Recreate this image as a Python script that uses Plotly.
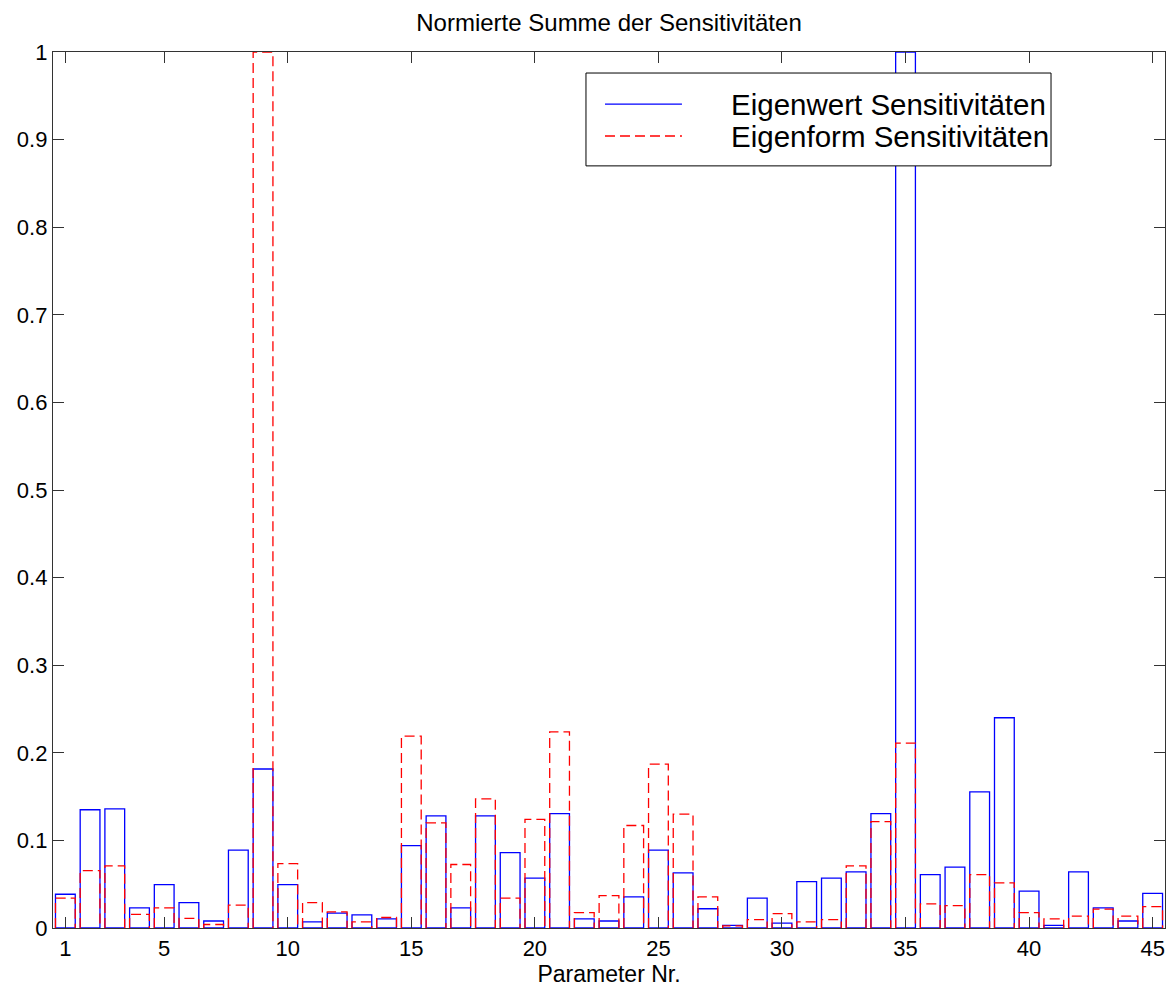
import plotly.graph_objects as go

# ---- data ----
params = list(range(1, 46))
eigenwert = [0.0385, 0.135, 0.136, 0.023, 0.0495, 0.029, 0.008, 0.089, 0.1815, 0.0495,
             0.007, 0.017, 0.015, 0.0105, 0.094, 0.128, 0.023, 0.128, 0.086, 0.057,
             0.1305, 0.0105, 0.008, 0.0355, 0.089, 0.063, 0.022, 0.003, 0.034, 0.0055,
             0.053, 0.057, 0.064, 0.1305, 1.0, 0.061, 0.0695, 0.1555, 0.24, 0.042,
             0.003, 0.064, 0.023, 0.008, 0.0395]
eigenform = [0.034, 0.0655, 0.071, 0.0155, 0.023, 0.011, 0.004, 0.026, 1.0, 0.0735,
             0.029, 0.0185, 0.007, 0.012, 0.219, 0.12, 0.0725, 0.1475, 0.034, 0.124,
             0.224, 0.0175, 0.037, 0.117, 0.187, 0.13, 0.0355, 0.0025, 0.0095, 0.0165,
             0.007, 0.0095, 0.071, 0.1215, 0.211, 0.0275, 0.0255, 0.061, 0.0515, 0.0175,
             0.0105, 0.0135, 0.0215, 0.0135, 0.0245]
x_ticks = [1, 5, 10, 15, 20, 25, 30, 35, 40, 45]
y_ticks = [0, 0.1, 0.2, 0.3, 0.4, 0.5, 0.6, 0.7, 0.8, 0.9, 1]
y_ticklabels = ["0", "0.1", "0.2", "0.3", "0.4", "0.5", "0.6", "0.7", "0.8", "0.9", "1"]
name_w = "Eigenwert Sensitivitäten"
name_f = "Eigenform Sensitivitäten"

BW = 0.8
FONT = "Liberation Sans, Arial, Helvetica, sans-serif"
BLUE = "#0000ff"
RED = "#ff0000"

fig = go.Figure()

# Eigenwert: solid blue outlined bars
fig.add_trace(go.Bar(
    x=params, y=eigenwert, width=BW, name=name_w,
    marker=dict(color="rgba(0,0,0,0)", line=dict(color=BLUE, width=1.3)),
    showlegend=False,
))

# Eigenform: dashed red outlined bars (drawn as paths from the data)
rx, ry = [], []
for p, v in zip(params, eigenform):
    rx += [p - BW / 2, p - BW / 2, p + BW / 2, p + BW / 2, None]
    ry += [0, v, v, 0, None]
fig.add_trace(go.Scatter(
    x=rx, y=ry, mode="lines", name=name_f,
    line=dict(color=RED, width=1.3, dash="10px,5px"),
    showlegend=False, connectgaps=False,
))

# ---- custom MATLAB-style legend ----
lx0, lx1, ly0, ly1 = 0.4793, 0.8975, 0.870, 0.976
fig.add_shape(type="rect", xref="paper", yref="paper", x0=lx0, x1=lx1, y0=ly0, y1=ly1,
              line=dict(color="black", width=1), fillcolor="white", layer="above")
fig.add_shape(type="line", xref="paper", yref="paper", x0=0.4964, x1=0.5656, y0=0.9406, y1=0.9406,
              line=dict(color=BLUE, width=1.3), layer="above")
fig.add_shape(type="line", xref="paper", yref="paper", x0=0.4964, x1=0.5656, y0=0.9041, y1=0.9041,
              line=dict(color=RED, width=1.3, dash="10px,5px"), layer="above")
fig.add_annotation(xref="paper", yref="paper", x=0.6079, y=0.9406, text=name_w,
                   xanchor="left", yanchor="middle", showarrow=False,
                   font=dict(family=FONT, size=29.5, color="black"))
fig.add_annotation(xref="paper", yref="paper", x=0.6079, y=0.9041, text=name_f,
                   xanchor="left", yanchor="middle", showarrow=False,
                   font=dict(family=FONT, size=29.5, color="black"))

axis_common = dict(
    showline=True, mirror="allticks", linecolor="#333333", linewidth=1.3,
    ticks="inside", ticklen=11, tickcolor="#333333", tickwidth=1.3,
    showgrid=False, zeroline=False,
    tickfont=dict(family=FONT, size=22, color="black"),
)

fig.update_layout(
    width=1173, height=992,
    margin=dict(l=53, r=8, t=52, b=64),
    paper_bgcolor="white", plot_bgcolor="white",
    barmode="overlay",
    title=dict(text="Normierte Summe der Sensitivitäten", x=0.5, xref="paper",
               y=1 - 23 / 992, yanchor="middle",
               font=dict(family=FONT, size=24, color="black")),
    xaxis=dict(range=[0.5, 45.5], tickvals=x_ticks, ticktext=[str(t) for t in x_ticks],
               title=dict(text="Parameter Nr.", standoff=2,
                          font=dict(family=FONT, size=23, color="black")),
               **axis_common),
    yaxis=dict(range=[0, 1], tickvals=y_ticks, ticktext=y_ticklabels, **axis_common),
)

fig.write_html("out.html")
